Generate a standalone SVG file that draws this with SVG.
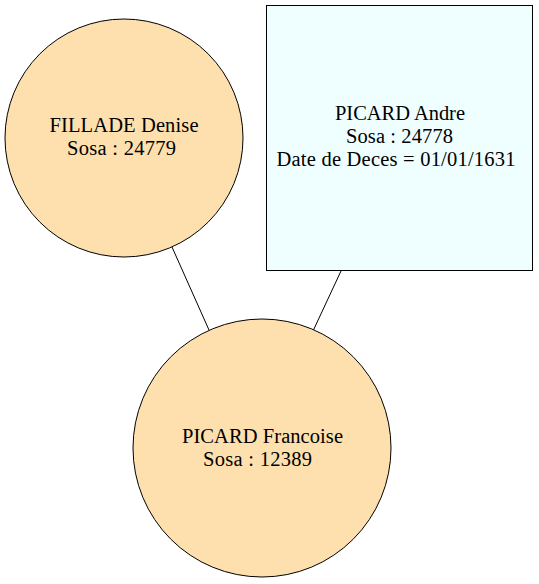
<svg xmlns="http://www.w3.org/2000/svg" width="539" height="584" viewBox="0 0 539 584">
<style>
.person{stroke:#000;stroke-width:1}
.f{fill:#fedfae}
.m{fill:#efffff}
text{font-family:"Liberation Serif","Times New Roman",serif;font-size:20.5px;fill:#000;text-anchor:middle}
.edge{stroke:#000;stroke-width:1;fill:none}
</style>
<rect width="539" height="584" fill="#fff"/>
<g id="edges">
<line class="edge" x1="172" y1="247" x2="209" y2="330"/>
<line class="edge" x1="341" y1="271" x2="313" y2="331"/>
</g>
<g id="denise">
<circle class="person f" cx="124" cy="138" r="119"/>
<text x="124" y="132" textLength="149" lengthAdjust="spacing">FILLADE Denise</text>
<text x="121.5" y="155" textLength="109" lengthAdjust="spacing">Sosa : 24779</text>
</g>
<g id="andre">
<rect class="person m" x="266.5" y="5.5" width="266" height="265"/>
<text x="400" y="120" textLength="130" lengthAdjust="spacing">PICARD Andre</text>
<text x="399.5" y="143" textLength="107" lengthAdjust="spacing">Sosa : 24778</text>
<text x="396" y="166" textLength="239" lengthAdjust="spacing">Date de Deces = 01/01/1631</text>
</g>
<g id="francoise">
<circle class="person f" cx="262" cy="448" r="129"/>
<text x="262.5" y="443" textLength="161" lengthAdjust="spacing">PICARD Francoise</text>
<text x="257.5" y="466" textLength="109" lengthAdjust="spacing">Sosa : 12389</text>
</g>
</svg>
